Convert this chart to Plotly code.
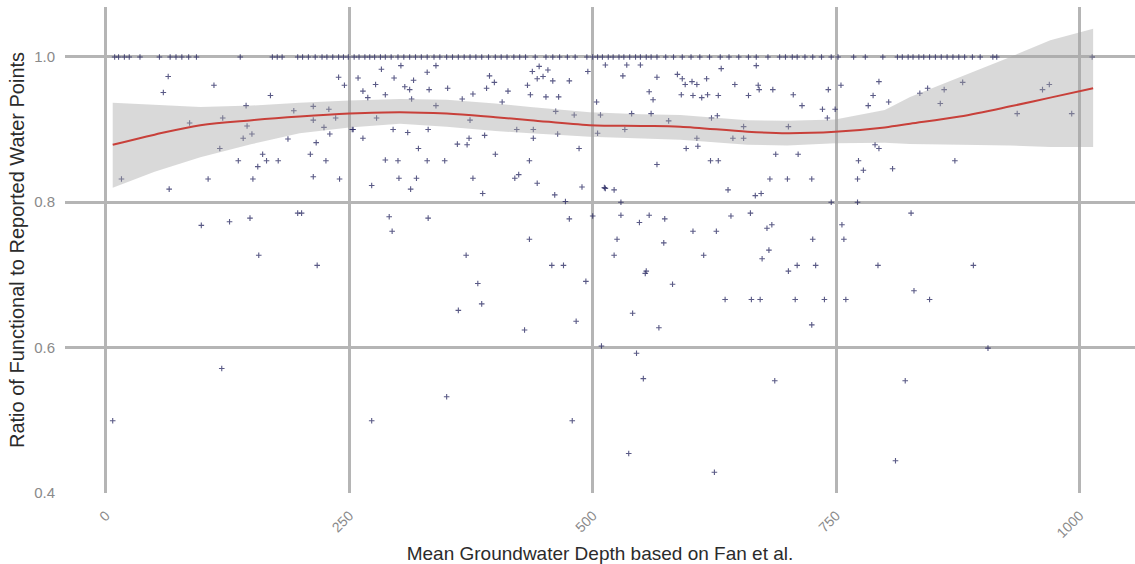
import plotly.graph_objects as go

# Water-point scatter: mean groundwater depth vs functional ratio
depth_full = [9, 13, 19, 24, 35, 55, 66, 72, 78, 85, 93, 138, 171, 176, 181,
              197, 202, 208, 215, 222, 227, 233, 239, 244, 249, 255, 260, 266,
              271, 276, 282, 287, 293, 300, 306, 312, 318, 324, 330, 337, 343,
              350, 356, 362, 368, 374, 380, 386, 393, 400, 406, 412, 419, 425,
              431, 441, 452, 459, 466, 474, 482, 494, 500, 505, 510, 516, 521,
              527, 532, 538, 544, 549, 555, 560, 566, 575, 583, 592, 601, 610,
              620, 631, 640, 650, 660, 668, 680, 692, 698, 705, 710, 718, 726,
              735, 745, 752, 768, 780, 798, 813, 818, 824, 829, 835, 840, 846,
              852, 858, 864, 870, 876, 882, 890, 898, 911, 915, 1013]

depth_partial = [
    98, 127, 148, 197, 201, 157, 217, 119, 7, 291, 331, 294, 435, 370, 458,
    470, 382, 493, 386, 362, 483, 430, 350, 273, 479, 476, 472, 500,
    529, 558, 574, 548, 525, 522, 573, 554, 555, 582, 541, 568, 603, 627,
    614, 642, 662, 679, 684, 681, 674, 701, 710, 729, 726, 636, 663, 672,
    708, 738, 760, 725, 509, 545, 552, 687, 537, 625, 756, 758, 827, 793,
    891, 830, 846, 906, 821, 811, 529, 745, 772,
    64, 59, 111, 169, 239, 245, 144, 120, 86, 193, 213, 229, 236, 213, 145,
    150, 141, 187, 224, 230, 253, 117, 216, 161, 210, 136, 165, 177, 226,
    156, 16, 105, 151, 213, 240, 65,
    283, 303, 339, 259, 296, 316, 330, 277, 307, 264, 269, 287, 312, 332,
    351, 366, 377, 394, 399, 391, 413, 407, 438, 445, 454, 443, 449, 459,
    476, 433, 436, 452, 465, 495, 513, 504, 314, 339, 462, 481, 278, 508,
    374, 254, 295, 310, 331, 422, 439, 505, 464, 264, 373, 389, 439, 361,
    371, 321, 400, 486, 287, 300, 330, 348, 435, 301, 319, 377, 420, 424,
    273, 313, 387, 443, 461, 489, 512,
    535, 549, 531, 566, 587, 592, 602, 607, 617, 595, 632, 668, 646, 670,
    671, 685, 558, 562, 591, 603, 612, 618, 629, 660, 706, 715, 742, 755,
    736, 749, 741, 540, 560, 578, 622, 628, 533, 655, 701, 607, 644, 655,
    596, 608, 688, 711, 566, 621, 629, 682, 700, 725, 772, 513, 522, 639,
    667, 673, 773,
    794, 788, 783, 804, 836, 844, 861, 880, 857, 962, 969, 936, 992, 790,
    794, 778, 808, 872]

ratio_partial = [
    0.768, 0.773, 0.778, 0.785, 0.785, 0.727, 0.713, 0.571, 0.499, 0.780,
    0.778, 0.760, 0.749, 0.727, 0.713, 0.713, 0.688, 0.691, 0.660, 0.651,
    0.636, 0.624, 0.532, 0.499, 0.499, 0.777, 0.801, 0.781,
    0.782, 0.782, 0.777, 0.772, 0.749, 0.727, 0.744, 0.702, 0.705, 0.687,
    0.647, 0.627, 0.760, 0.760, 0.727, 0.781, 0.785, 0.764, 0.769, 0.734,
    0.722, 0.705, 0.713, 0.713, 0.749, 0.666, 0.666, 0.666, 0.666, 0.666,
    0.666, 0.631, 0.602, 0.592, 0.557, 0.554, 0.454, 0.428, 0.769, 0.749,
    0.785, 0.713, 0.713, 0.678, 0.666, 0.599, 0.554, 0.444, 0.800, 0.800,
    0.800,
    0.973, 0.951, 0.961, 0.947, 0.972, 0.961, 0.933, 0.916, 0.909, 0.926,
    0.932, 0.928, 0.916, 0.913, 0.905, 0.894, 0.888, 0.887, 0.903, 0.894,
    0.900, 0.874, 0.882, 0.866, 0.866, 0.857, 0.857, 0.857, 0.857, 0.849,
    0.832, 0.832, 0.832, 0.835, 0.832, 0.818,
    0.983, 0.988, 0.988, 0.971, 0.971, 0.968, 0.979, 0.962, 0.959, 0.953,
    0.944, 0.948, 0.955, 0.955, 0.957, 0.942, 0.949, 0.974, 0.965, 0.957,
    0.953, 0.938, 0.980, 0.987, 0.982, 0.970, 0.973, 0.967, 0.967, 0.961,
    0.948, 0.945, 0.945, 0.980, 0.989, 0.938, 0.942, 0.933, 0.925, 0.920,
    0.916, 0.920, 0.913, 0.900, 0.900, 0.896, 0.900, 0.900, 0.900, 0.895,
    0.894, 0.888, 0.888, 0.892, 0.888, 0.880, 0.879, 0.874, 0.866, 0.874,
    0.858, 0.857, 0.857, 0.857, 0.857, 0.833, 0.833, 0.833, 0.833, 0.838,
    0.823, 0.818, 0.812, 0.826, 0.810, 0.821, 0.820,
    0.989, 0.989, 0.974, 0.972, 0.976, 0.970, 0.966, 0.962, 0.970, 0.962,
    0.984, 0.988, 0.962, 0.961, 0.955, 0.955, 0.952, 0.941, 0.948, 0.947,
    0.944, 0.948, 0.947, 0.947, 0.948, 0.933, 0.955, 0.961, 0.928, 0.928,
    0.916, 0.922, 0.922, 0.912, 0.916, 0.919, 0.900, 0.904, 0.904, 0.888,
    0.888, 0.888, 0.874, 0.877, 0.866, 0.866, 0.852, 0.857, 0.857, 0.832,
    0.832, 0.832, 0.832, 0.819, 0.817, 0.817, 0.809, 0.812, 0.857,
    0.966, 0.947, 0.933, 0.938, 0.950, 0.957, 0.955, 0.965, 0.936, 0.955,
    0.962, 0.922, 0.922, 0.879, 0.874, 0.844, 0.846, 0.857]

# Loess fit and its confidence band
fit_depth = [7, 50, 97, 150, 199, 250, 302, 350, 400, 436, 497, 550, 590,
             659, 700, 749, 800, 826, 877, 929, 970, 1014]
fit_ratio = [0.879, 0.893, 0.906, 0.913, 0.918, 0.922, 0.924, 0.922, 0.917,
             0.913, 0.906, 0.905, 0.904, 0.897, 0.895, 0.897, 0.903, 0.908,
             0.918, 0.932, 0.944, 0.957]
fit_upper = [0.937, 0.934, 0.931, 0.933, 0.937, 0.940, 0.942, 0.941, 0.936,
             0.931, 0.924, 0.921, 0.920, 0.913, 0.912, 0.914, 0.927, 0.945,
             0.972, 1.000, 1.023, 1.039]
fit_lower = [0.820, 0.842, 0.862, 0.880, 0.895, 0.903, 0.908, 0.904, 0.898,
             0.895, 0.890, 0.888, 0.886, 0.879, 0.878, 0.881, 0.882, 0.880,
             0.879, 0.878, 0.876, 0.876]

x_ticks = [0, 250, 500, 750, 1000]
x_tick_text = ["0", "250", "500", "750", "1000"]
y_ticks = [0.4, 0.6, 0.8, 1.0]
y_tick_text = ["0.4", "0.6", "0.8", "1.0"]

depth_all = depth_full + depth_partial
ratio_all = [1.0] * len(depth_full) + ratio_partial

point_color = "#23235e"
grid_color = "#b5b5b5"
tick_color = "#8a8a8a"

fig = go.Figure()

fig.add_trace(go.Scatter(
    x=depth_all, y=ratio_all, mode="markers",
    marker=dict(symbol="cross-thin", size=4, opacity=0.75,
                line=dict(width=1.1, color=point_color)),
    hoverinfo="x+y", showlegend=False,
))

# confidence ribbon
fig.add_trace(go.Scatter(
    x=fit_depth + fit_depth[::-1], y=fit_upper + fit_lower[::-1],
    fill="toself", fillcolor="rgba(165,165,165,0.42)",
    line=dict(width=0), mode="lines", hoverinfo="skip", showlegend=False,
))

fig.add_trace(go.Scatter(
    x=fit_depth, y=fit_ratio, mode="lines",
    line=dict(color="#c8403a", width=2, shape="spline"),
    showlegend=False,
))

fig.update_layout(
    width=1135, height=564,
    margin=dict(l=65, r=0, t=7, b=71),
    paper_bgcolor="white", plot_bgcolor="white",
    font=dict(family="Liberation Sans, Arial, sans-serif", color="#333333"),
    xaxis=dict(
        range=[-42, 1057], tickvals=x_ticks, ticktext=x_tick_text,
        tickangle=-45, tickfont=dict(size=14, color=tick_color),
        showgrid=True, gridcolor=grid_color, gridwidth=3,
        zeroline=False, showline=False,
        ticks="outside", ticklen=8, tickcolor="rgba(0,0,0,0)",
        automargin=False,
        title=dict(text="Mean Groundwater Depth based on Fan et al.",
                   font=dict(size=19, color="#2b2b2b"), standoff=8),
    ),
    yaxis=dict(
        range=[0.3995, 1.0688], tickvals=y_ticks, ticktext=y_tick_text,
        tickfont=dict(size=15, color=tick_color),
        showgrid=True, gridcolor=grid_color, gridwidth=3,
        zeroline=False, showline=False,
        ticks="outside", ticklen=6, tickcolor="rgba(0,0,0,0)",
        automargin=False,
        title=dict(text="Ratio of Functional to Reported Water Points",
                   font=dict(size=20, color="#2b2b2b"), standoff=4),
    ),
)

fig.write_html("out.html")
